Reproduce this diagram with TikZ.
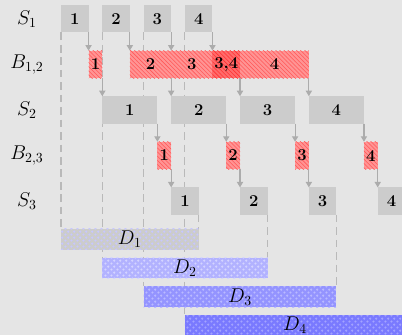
\documentclass[tikz,border=0pt]{standalone}
\usetikzlibrary{patterns,arrows.meta}
\pgfdeclarelayer{bg}
\pgfsetlayers{bg,main}
\pgfdeclarepatternformonly{bigdots}{\pgfpointorigin}{\pgfpoint{4.2pt}{4.2pt}}{\pgfpoint{4.2pt}{4.2pt}}{%
  \pgfpathcircle{\pgfpoint{1.05pt}{1.05pt}}{0.85pt}%
  \pgfpathcircle{\pgfpoint{3.15pt}{3.15pt}}{0.85pt}%
  \pgfusepath{fill}}
\begin{document}
\begin{tikzpicture}[x=9.952pt, y=-0.7227pt,
  sbox/.style={fill=gray!40, inner sep=0pt, outer sep=0pt, minimum height=19.87pt, anchor=north west, font=\large\bfseries},
  bbox/.style={preaction={fill=red!42}, pattern=north west lines, pattern color=red!65, inner sep=0pt, outer sep=0pt, minimum height=19.87pt, anchor=north west, font=\large\bfseries},
  obox/.style={preaction={fill=red!58}, pattern=north west lines, pattern color=red!80, inner sep=0pt, outer sep=0pt, minimum height=19.87pt, anchor=north west, font=\large\bfseries},
  dbox/.style={inner sep=0pt, outer sep=0pt, minimum height=14.96pt, anchor=north west, font=\Large, pattern=bigdots},
  rowlabel/.style={font=\Large},
  arr/.style={draw=gray!65, line width=0.8pt, -{Triangle[length=4pt,width=4.5pt]}},
  guide/.style={draw=gray!55, line width=0.8pt, dash pattern=on 5.5pt off 3.5pt},
  wd/.style={minimum width=#1*9.952pt}
]
\begin{pgfonlayer}{bg}
\fill[gray!20] (-4.43,0) rectangle (24.764,335);
\end{pgfonlayer}
\useasboundingbox (-4.43,0) rectangle (24.764,335);

% row labels
\node[rowlabel] (ls1) at (-2.47,18.75) {$S_1$};
\node[rowlabel] (lb12) at (-2.47,64.35) {$B_{1,2}$};
\node[rowlabel] (ls2) at (-2.47,109.95) {$S_2$};
\node[rowlabel] (lb23) at (-2.47,155.55) {$B_{2,3}$};
\node[rowlabel] (ls3) at (-2.47,201.15) {$S_3$};

% S1
\node[sbox,wd=2] (s11) at (0,5) {1};
\node[sbox,wd=2] (s12) at (3,5) {2};
\node[sbox,wd=2] (s13) at (6,5) {3};
\node[sbox,wd=2] (s14) at (9,5) {4};

% B12
\node[bbox,wd=1] (b1) at (2,50.6) {1};
\node[bbox,wd=3] (b2) at (5,50.6) {2};
\node[bbox,wd=3] (b3) at (8,50.6) {3};
\node[obox,wd=2] (o34) at (11,50.6) {3,4};
\node[bbox,wd=5] (b4) at (13,50.6) {4};

% S2
\node[sbox,wd=4] (s21) at (3,96.2) {1};
\node[sbox,wd=4] (s22) at (8,96.2) {2};
\node[sbox,wd=4] (s23) at (13,96.2) {3};
\node[sbox,wd=4] (s24) at (18,96.2) {4};

% B23
\node[bbox,wd=1] (c1) at (7,141.8) {1};
\node[bbox,wd=1] (c2) at (12,141.8) {2};
\node[bbox,wd=1] (c3) at (17,141.8) {3};
\node[bbox,wd=1] (c4) at (22,141.8) {4};

% S3
\node[sbox,wd=2] (s31) at (8,187.4) {1};
\node[sbox,wd=2] (s32) at (13,187.4) {2};
\node[sbox,wd=2] (s33) at (18,187.4) {3};
\node[sbox,wd=2] (s34) at (23,187.4) {4};

% D rows
\node[dbox,wd=10,preaction={fill=gray!40},pattern color=blue!22] (d1) at (0,229) {$D_1$};
\node[dbox,wd=12,preaction={fill=blue!30},pattern color=blue!17] (d2) at (3,257.7) {$D_2$};
\node[dbox,wd=14,preaction={fill=blue!42},pattern color=blue!27] (d3) at (6,286.4) {$D_3$};
\node[dbox,wd=16,preaction={fill=blue!52},pattern color=blue!36] (d4) at (9,315.1) {$D_4$};

% guides
\begin{pgfonlayer}{bg}
\draw[guide] (s11.south west) -- (d1.north west);
\draw[guide] (s12.south west) -- (d2.north west);
\draw[guide] (s13.south west) -- (d3.north west);
\draw[guide] (s14.south west) -- (d4.north west);
\draw[guide] (s31.south east) -- (d1.north east);
\draw[guide] (s32.south east) -- (d2.north east);
\draw[guide] (s33.south east) -- (d3.north east);
\draw[guide] (s34.south east) -- (d4.north east);
\end{pgfonlayer}

% arrows S1 -> B12
\draw[arr] (s11.south east) -- (b1.north west);
\draw[arr] (s12.south east) -- (b2.north west);
\draw[arr] (s13.south east) -- (b3.north west);
\draw[arr] (s14.south east) -- (o34.north west);
% B12 -> S2
\draw[arr] (b1.south east) -- (s21.north west);
\draw[arr] (b2.south east) -- (s22.north west);
\draw[arr] (o34.south east) -- (s23.north west);
\draw[arr] (b4.south east) -- (s24.north west);
% S2 -> B23
\draw[arr] (s21.south east) -- (c1.north west);
\draw[arr] (s22.south east) -- (c2.north west);
\draw[arr] (s23.south east) -- (c3.north west);
\draw[arr] (s24.south east) -- (c4.north west);
% B23 -> S3
\draw[arr] (c1.south east) -- (s31.north west);
\draw[arr] (c2.south east) -- (s32.north west);
\draw[arr] (c3.south east) -- (s33.north west);
\draw[arr] (c4.south east) -- (s34.north west);
\end{tikzpicture}
\end{document}
